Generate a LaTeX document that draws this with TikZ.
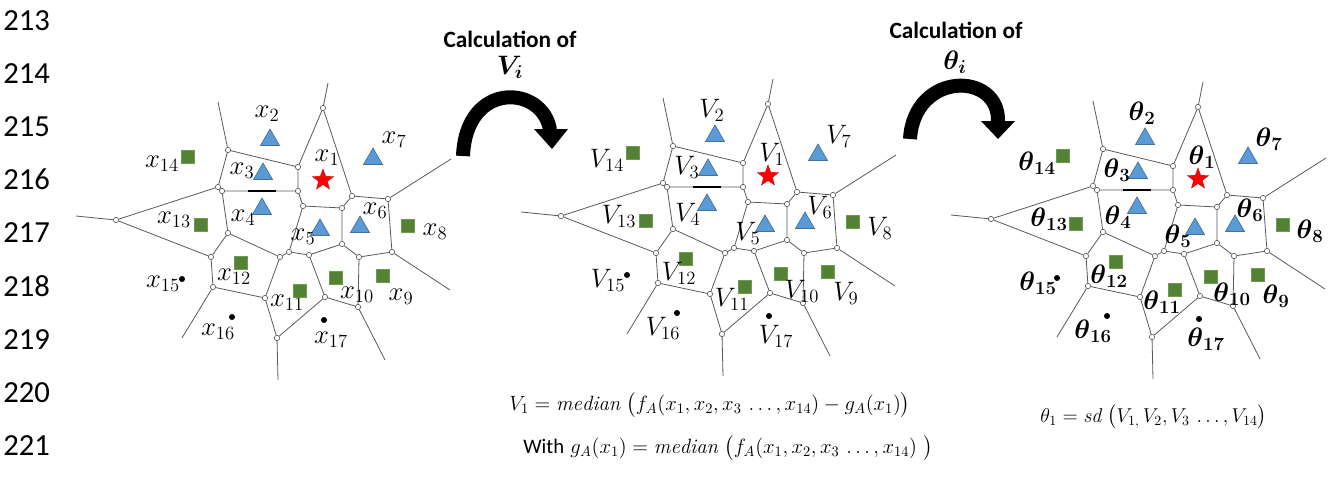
\RequirePackage{fix-cm}
\documentclass[tikz,border=0pt]{standalone}
\usepackage{amsmath,amssymb}
\usepackage{fontspec}
\newfontfamily\calibri{Carlito}
\usetikzlibrary{shapes.geometric}
\definecolor{edgec}{HTML}{595959}
\definecolor{triblue}{HTML}{5B9BD5}
\definecolor{triedge}{HTML}{41719C}
\definecolor{sqgreen}{HTML}{548235}
\definecolor{sqedge}{HTML}{6F9A52}
\newcommand\xlab[1]{$x_{#1}$}
\newcommand\vlab[1]{$V_{#1}$}
\newcommand\tlab[1]{$\boldsymbol{\theta}_{\boldsymbol{#1}}$}
% Voronoi skeleton, #1 = name prefix
\newcommand\vorgraph[1]{%
  \node[vx] (#1A) at (228,150) {};
  \node[vx] (#1B) at (298,167) {};
  \node[vx] (#1C) at (218,187) {};
  \node[vx] (#1D) at (222,191) {};
  \node[vx] (#1E) at (298,191) {};
  \node[vx] (#1F) at (116,220) {};
  \node[vx] (#1G) at (228,233) {};
  \node[vx] (#1H) at (323,108) {};
  \node[vx] (#1I) at (352,196) {};
  \node[vx] (#1J) at (303,206) {};
  \node[vx] (#1K) at (342,208) {};
  \node[vx] (#1L) at (388,199) {};
  \node[vx] (#1M) at (289,252) {};
  \node[vx] (#1N) at (280,257) {};
  \node[vx] (#1O) at (309,255) {};
  \node[vx] (#1P) at (342,244) {};
  \node[vx] (#1Q) at (359,257) {};
  \node[vx] (#1R) at (392,252) {};
  \node[vx] (#1S) at (358,307) {};
  \node[vx] (#1T) at (325,297) {};
  \node[vx] (#1U) at (265,298) {};
  \node[vx] (#1W) at (277,338) {};
  \node[vx] (#1X) at (211,257) {};
  \node[vx] (#1Y) at (213,287) {};
  \coordinate (#1Ao) at (218,102);
  \coordinate (#1Fo) at (76,216);
  \coordinate (#1Ho) at (328,83);
  \coordinate (#1Lo) at (451,159);
  \coordinate (#1Ro) at (450,290);
  \coordinate (#1So) at (385,360);
  \coordinate (#1Wo) at (278,380);
  \coordinate (#1Yo) at (182,338);
  \coordinate (#1b1) at (248,191);
  \coordinate (#1b2) at (276,191);
  \draw[ed] (#1A)--(#1B) (#1A)--(#1C) (#1B)--(#1H) (#1B)--(#1E)
    (#1C)--(#1D) (#1C)--(#1F) (#1D)--(#1E) (#1D)--(#1G) (#1E)--(#1J)
    (#1F)--(#1X) (#1G)--(#1X) (#1G)--(#1N) (#1H)--(#1I) (#1I)--(#1K)
    (#1I)--(#1L) (#1J)--(#1K) (#1J)--(#1M) (#1K)--(#1P) (#1L)--(#1R)
    (#1M)--(#1N) (#1M)--(#1O) (#1N)--(#1U) (#1O)--(#1P) (#1O)--(#1T)
    (#1P)--(#1Q) (#1Q)--(#1R) (#1Q)--(#1S) (#1S)--(#1T) (#1T)--(#1W)
    (#1U)--(#1W) (#1U)--(#1Y) (#1X)--(#1Y)
    (#1Ao)--(#1A) (#1Fo)--(#1F) (#1Ho)--(#1H) (#1Lo)--(#1L)
    (#1Ro)--(#1R) (#1So)--(#1S) (#1Wo)--(#1W) (#1Yo)--(#1Y);
  \draw[line width=1.1pt,black] (#1b1)--(#1b2);
}
% markers and labels, #1 = prefix, #2 = label macro
\newcommand\vormarks[2]{%
  \node[redstar] (#1m1) at (323,180) {};
  \node[tri] (#1m2) at (270,140) {};
  \node[tri] (#1m3) at (263,174) {};
  \node[tri] (#1m4) at (262,209) {};
  \node[tri] (#1m5) at (320,230) {};
  \node[tri] (#1m6) at (360,227) {};
  \node[tri] (#1m7) at (373,159) {};
  \node[sq] (#1m8) at (408,226) {};
  \node[sq] (#1m9) at (383,276) {};
  \node[sq] (#1m10) at (336,278) {};
  \node[sq] (#1m11) at (300,291) {};
  \node[sq] (#1m12) at (241,263) {};
  \node[sq] (#1m13) at (201,225) {};
  \node[sq] (#1m14) at (188,157) {};
  \node[bdot] (#1m15) at (182,279) {};
  \node[bdot] (#1m16) at (232,317) {};
  \node[bdot] (#1m17) at (324,320) {};
  \node[lab] (#1l1) at (327,158) {#2{1}};
  \node[lab] (#1l2) at (267,114) {#2{2}};
  \node[lab] (#1l3) at (242,171) {#2{3}};
  \node[lab] (#1l4) at (243,218) {#2{4}};
  \node[lab] (#1l5) at (303,237) {#2{5}};
  \node[lab] (#1l6) at (375,211) {#2{6}};
  \node[lab] (#1l7) at (394,140) {#2{7}};
  \node[lab] (#1l8) at (435,232) {#2{8}};
  \node[lab] (#1l9) at (401,297) {#2{9}};
  \node[lab] (#1l10) at (357,295) {#2{10}};
  \node[lab] (#1l11) at (287,303) {#2{11}};
  \node[lab] (#1l12) at (234,277) {#2{12}};
  \node[lab] (#1l13) at (174,220) {#2{13}};
  \node[lab] (#1l14) at (162,164) {#2{14}};
  \node[lab] (#1l15) at (163,284) {#2{15}};
  \node[lab] (#1l16) at (218,332) {#2{16}};
  \node[lab] (#1l17) at (331,340) {#2{17}};
}
\begin{document}
\begin{tikzpicture}[x=0.75pt,y=-0.75pt,
  vx/.style={circle,draw=edgec,fill=white,line width=0.45pt,inner sep=0pt,minimum size=4pt},
  ed/.style={draw=edgec,line width=0.6pt},
  tri/.style={regular polygon,regular polygon sides=3,fill=triblue,draw=triedge,line width=0.5pt,inner sep=0pt,minimum size=16.5pt},
  sq/.style={rectangle,fill=sqgreen,draw=sqedge,line width=0.4pt,inner sep=0pt,minimum size=9.75pt},
  bdot/.style={circle,fill=black,inner sep=0pt,minimum size=4.5pt},
  redstar/.style={star,star points=5,star point ratio=2.4,fill=red,draw=red!80!black,line width=0.3pt,inner sep=0pt,minimum size=16.5pt},
  lab/.style={font=\fontsize{20}{22}\selectfont,inner sep=0pt},
  lineno/.style={font=\calibri\fontsize{23}{26}\selectfont,anchor=base west,inner sep=0pt},
  calc/.style={font=\calibri\bfseries\fontsize{17.5}{20}\selectfont,inner sep=0pt},
  formula/.style={font=\fontsize{15.5}{18}\selectfont,anchor=base west,inner sep=0pt},
  bigarrow/.style={line width=10.5pt,line cap=butt,black},
]
\useasboundingbox (0,0) rectangle (1330,478);
% line numbers
\foreach \n [count=\k from 0] in {213,214,215,216,217,218,219,220,221}
  \node[lineno] (ln\n) at (3,30.5+53.1*\k) {\n};
% left diagram
\vorgraph{L}
\vormarks{L}{\xlab}
% middle diagram
\begin{scope}[shift={(445,-4)}]
\vorgraph{C}
\vormarks{C}{\vlab}
\end{scope}
% right diagram
\begin{scope}[shift={(875,-1)}]
\vorgraph{R}
\vormarks{R}{\tlab}
\end{scope}
% headings
\node[calc] (calc1) at (510,39) {Calculation of};
\node[lab] (vi) at (510,67) {$\boldsymbol{V_i}$};
\node[calc] (calc2) at (956,30) {Calculation of};
\node[lab] (thi) at (955,62) {$\boldsymbol{\theta_i}$};
% curved arrows
\draw[bigarrow] (463,156) .. controls (466,80) and (543,85) .. (550,130);
\fill (534,129) -- (568,129) -- (552,149) -- cycle;
\draw[bigarrow] (910,139) .. controls (914,71) and (1000,71) .. (998,122);
\fill (981,121) -- (1015,121) -- (998,139) -- cycle;
% formulas
\node[formula] (f1) at (509,410) {$V_1 = \mathit{median}\ \bigl(f_A(x_1,x_2,x_3\,\ldots,x_{14}) - g_A(x_1)\bigr)$};
\node[formula] (f2) at (523,453) {{\calibri With} $g_A(x_1) = \mathit{median}\ \bigl(f_A(x_1,x_2,x_3\,\ldots,x_{14})\ \bigr)$};
\node[formula,font=\fontsize{15}{18}\selectfont] (f3) at (1040,422) {$\theta_1 = \mathit{sd}\ \bigl(V_{1,}\,V_2,V_3\,\ldots,V_{14}\bigr)$};
\end{tikzpicture}
\end{document}
